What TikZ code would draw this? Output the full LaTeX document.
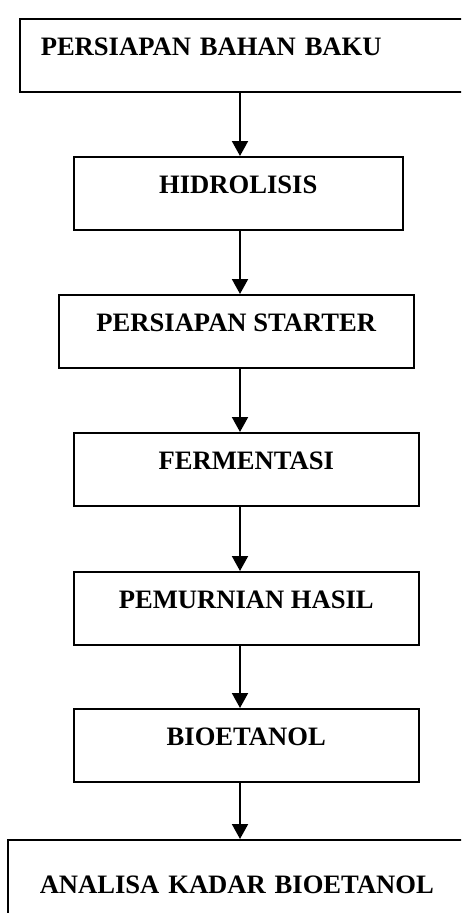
\documentclass[tikz,border=0pt]{standalone}
\usepackage{fontspec}
\setmainfont{Liberation Serif}
\usetikzlibrary{arrows.meta}

\begin{document}
\begin{tikzpicture}[
    x=1pt, y=1pt,
    font=\fontsize{26.6}{30}\selectfont\bfseries,
    stepbox/.style={
        draw,
        line width=1.5pt,
        anchor=north west,
        align=center,
        inner xsep=0pt,
        inner ysep=0pt,
        minimum height=73pt,
        text height=37pt,
        text depth=36pt
    },
    widebox/.style={
        stepbox,
        align=left,
        text width=420pt,
        inner xsep=21pt
    },
    flow/.style={-{Triangle[length=15pt, width=16pt]}, line width=2pt}
]
    \clip (0,0) rectangle (461,-913);
    \coordinate (axis) at (240,0);

    \node[widebox] (bahan) at (19,-18) {PERSIAPAN BAHAN BAKU};
    \node[stepbox, minimum width=329pt] (hidro) at (73,-156) {HIDROLISIS};
    \node[stepbox, minimum width=355pt] (starter) at (58,-294) {PERSIAPAN STARTER};
    \node[stepbox, minimum width=345pt] (ferment) at (73,-432) {FERMENTASI};
    \node[stepbox, minimum width=345pt] (murni) at (73,-571) {PEMURNIAN HASIL};
    \node[stepbox, minimum width=345pt] (etanol) at (73,-708) {BIOETANOL};
    \node[widebox, inner xsep=32pt, text height=54pt, text depth=60pt] (analisa) at (7,-839) {ANALISA KADAR BIOETANOL};

    \draw[flow] (bahan.south -| axis) -- (hidro.north -| axis);
    \draw[flow] (hidro.south -| axis) -- (starter.north -| axis);
    \draw[flow] (starter.south -| axis) -- (ferment.north -| axis);
    \draw[flow] (ferment.south -| axis) -- (murni.north -| axis);
    \draw[flow] (murni.south -| axis) -- (etanol.north -| axis);
    \draw[flow] (etanol.south -| axis) -- (analisa.north -| axis);
\end{tikzpicture}
\end{document}
